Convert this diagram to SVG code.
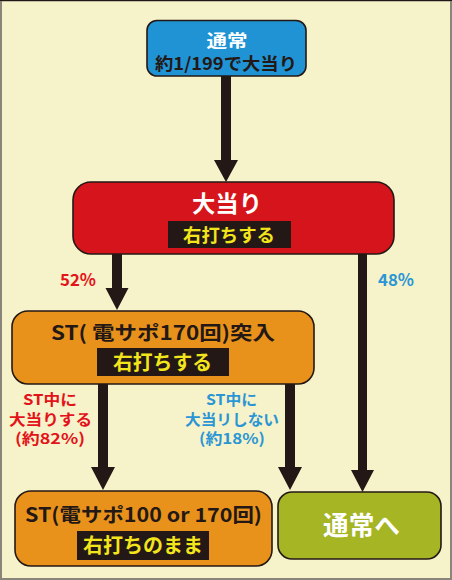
<svg xmlns="http://www.w3.org/2000/svg" width="452" height="580" viewBox="0 0 452 580">
<style>
.box{stroke:#231815;stroke-width:1.6}
.t{font-family:"Noto Sans CJK JP","Noto Sans",sans-serif;font-weight:bold;text-anchor:middle}
.w{fill:#ffffff}
.d{fill:#231815}
.y{fill:#f3e51b}
.r{fill:#e3131b}
.b{fill:#2b96d5}
.band{fill:#231815}
.arrow{fill:#231815}
</style>
<rect x="0" y="0" width="452" height="580" fill="#f6f2c9"/>
<rect x="1" y="0.5" width="450" height="578.5" fill="none" stroke="#8a857a" stroke-width="2"/>
<line x1="0" y1="0.5" x2="452" y2="0.5" stroke="#231815" stroke-width="1"/>
<g id="connectors">
<path class="arrow" d="M221,76 H231 V160 H238 L226,182 L214,160 H221 Z"/>
<path class="arrow" d="M112,254 H122 V288 H128.5 L117,310 L105.5,288 H112 Z"/>
<path class="arrow" d="M358,254 H367 V470 H374 L362.5,492 L351,470 H358 Z"/>
<path class="arrow" d="M98,384 H108 V467 H115 L103,490 L91,467 H98 Z"/>
<path class="arrow" d="M285,384 H295 V467 H302 L290,490 L278,467 H285 Z"/>
</g>
<g id="node-normal">
<rect class="box" x="147" y="20.5" width="159" height="55.5" rx="10" fill="#1f93d3"/>
<text class="t w" x="227" y="46.5" font-size="17" textLength="41" lengthAdjust="spacingAndGlyphs">通常</text>
<text class="t d" x="226" y="69.5" font-size="17" textLength="142" lengthAdjust="spacingAndGlyphs">約1/199で大当り</text>
</g>
<g id="node-jackpot">
<rect class="box" x="73" y="182" width="321" height="72" rx="18" fill="#d6141b"/>
<text class="t w" x="227" y="212" font-size="23" textLength="70" lengthAdjust="spacingAndGlyphs">大当り</text>
<rect class="band" x="168" y="221" width="123" height="27"/>
<text class="t y" x="229" y="242" font-size="18.5" textLength="92" lengthAdjust="spacingAndGlyphs">右打ちする</text>
</g>
<g id="label-52">
<text class="t r" x="78" y="286" font-size="16.5" textLength="36" lengthAdjust="spacingAndGlyphs">52%</text>
</g>
<g id="label-48">
<text class="t b" x="396" y="286" font-size="16.5" textLength="36" lengthAdjust="spacingAndGlyphs">48%</text>
</g>
<g id="node-st">
<rect class="box" x="12" y="311" width="302" height="73" rx="16" fill="#e8921c"/>
<text class="t d" x="163" y="340" font-size="19.5" textLength="224" lengthAdjust="spacingAndGlyphs">ST( 電サポ170回)突入</text>
<rect class="band" x="97" y="348" width="132" height="28"/>
<text class="t y" x="162.5" y="369.5" font-size="20" textLength="99" lengthAdjust="spacingAndGlyphs">右打ちする</text>
</g>
<g id="label-hit">
<text class="t r" x="50" y="405" font-size="15" textLength="54" lengthAdjust="spacingAndGlyphs">ST中に</text>
<text class="t r" x="50.5" y="425" font-size="15" textLength="83" lengthAdjust="spacingAndGlyphs">大当りする</text>
<text class="t r" x="50" y="444" font-size="15" textLength="70" lengthAdjust="spacingAndGlyphs">(約82%)</text>
</g>
<g id="label-miss">
<text class="t b" x="231.5" y="405" font-size="15" textLength="51" lengthAdjust="spacingAndGlyphs">ST中に</text>
<text class="t b" x="232" y="425" font-size="15" textLength="94" lengthAdjust="spacingAndGlyphs">大当リしない</text>
<text class="t b" x="232" y="444" font-size="15" textLength="66" lengthAdjust="spacingAndGlyphs">(約18%)</text>
</g>
<g id="node-st2">
<rect class="box" x="15" y="491" width="257" height="75" rx="16" fill="#e8921c"/>
<text class="t d" x="143.5" y="522" font-size="19.5" textLength="237" lengthAdjust="spacingAndGlyphs">ST(電サポ100 or 170回)</text>
<rect class="band" x="77" y="531" width="132" height="29"/>
<text class="t y" x="143" y="553" font-size="20" textLength="120" lengthAdjust="spacingAndGlyphs">右打ちのまま</text>
</g>
<g id="node-back">
<rect class="box" x="278" y="492" width="163" height="67" rx="14" fill="#a5b524"/>
<text class="t w" x="361.5" y="535" font-size="26" textLength="77" lengthAdjust="spacingAndGlyphs">通常へ</text>
</g>
</svg>
